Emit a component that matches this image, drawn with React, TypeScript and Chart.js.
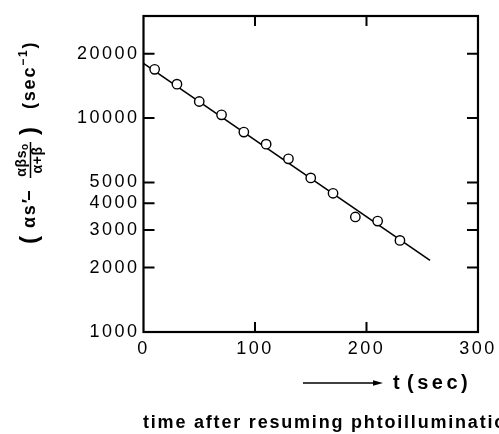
import { useEffect, useRef } from 'react';
import { Chart, registerables } from 'chart.js';

Chart.register(...registerables);

// Measured points: time (s) and rate value
const timeSec = [10, 30, 50, 70, 90, 110, 130, 150, 170, 190, 210, 230];
const rateValues = [16900, 14400, 11950, 10350, 8600, 7550, 6450, 5250, 4450, 3450, 3300, 2680];

// Fitted straight line (on log scale)
const fitTime = [0, 257];
const fitValues = [18000, 2160];

// Axis ticks
const yTickValues = [1000, 2000, 3000, 4000, 5000, 10000, 20000];
const xTickValues = [0, 100, 200, 300];
const xMin = 0;
const xMax = 300;
const yMin = 1000;
const yMax = 30000;

// Texts
const xArrowLabelT = 't';
const xArrowLabelUnit = '(sec)';
const captionText = 'time after resuming phtoillumination';

const FAMILY = '"Liberation Sans", Arial, Helvetica, sans-serif';

export default function App() {
  const ref = useRef<HTMLCanvasElement>(null);

  useEffect(() => {
    document.body.style.margin = '0';
    const canvas = ref.current!;

    const framePlugin = {
      id: 'framePlugin',
      beforeDraw(chart: any) {
        chart.ctx.letterSpacing = '2.5px';
      },
      afterDraw(chart: any) {
        const ctx: CanvasRenderingContext2D = chart.ctx;
        const { left, right, top, bottom } = chart.chartArea;
        const xs = chart.scales.x;
        const ys = chart.scales.y;
        ctx.save();
        ctx.letterSpacing = '0px';
        ctx.strokeStyle = '#000';
        ctx.fillStyle = '#000';
        ctx.lineWidth = 2.2;
        ctx.lineCap = 'butt';
        ctx.strokeRect(left, top, right - left, bottom - top);
        // inward ticks
        ctx.lineWidth = 2;
        ctx.beginPath();
        for (const v of yTickValues) {
          const py = ys.getPixelForValue(v);
          if (py >= bottom - 1) continue;
          ctx.moveTo(left, py);
          ctx.lineTo(left + 11, py);
          ctx.moveTo(right, py);
          ctx.lineTo(right - 11, py);
        }
        for (const v of xTickValues) {
          const px = xs.getPixelForValue(v);
          if (px <= left + 1 || px >= right - 1) continue;
          ctx.moveTo(px, bottom);
          ctx.lineTo(px, bottom - 10);
          ctx.moveTo(px, top);
          ctx.lineTo(px, top + 10);
        }
        ctx.stroke();

        // arrow + t(sec)
        ctx.lineWidth = 1.6;
        ctx.beginPath();
        ctx.moveTo(303, 383);
        ctx.lineTo(375, 383);
        ctx.stroke();
        ctx.beginPath();
        ctx.moveTo(373, 380.3);
        ctx.lineTo(383, 383);
        ctx.lineTo(373, 385.7);
        ctx.closePath();
        ctx.fill();

        ctx.textBaseline = 'alphabetic';
        ctx.textAlign = 'left';
        ctx.font = `bold 20px ${FAMILY}`;
        ctx.letterSpacing = '0px';
        ctx.fillText(xArrowLabelT, 393, 389);
        ctx.letterSpacing = '3.5px';
        ctx.fillText(xArrowLabelUnit, 407, 389);

        // caption
        ctx.font = `bold 18px ${FAMILY}`;
        ctx.letterSpacing = '1.8px';
        ctx.fillText(captionText, 143, 428);

        // y title (rotated, with fraction); local x = -screenY
        ctx.save();
        ctx.translate(30, 0);
        ctx.rotate(-Math.PI / 2);
        ctx.textBaseline = 'middle';
        ctx.textAlign = 'left';
        const big = `bold 18px ${FAMILY}`;
        const paren = `bold 24px ${FAMILY}`;
        const small = `bold 14px ${FAMILY}`;
        const tiny = `bold 10px ${FAMILY}`;
        const sup = `bold 12px ${FAMILY}`;
        const put = (text: string, font: string, screenY: number, dy: number) => {
          ctx.font = font;
          ctx.fillText(text, -screenY, dy);
          return ctx.measureText(text).width;
        };
        ctx.letterSpacing = '1.8px';
        put('(', paren, 244, 0);
        put('αs′', big, 228, 0);
        put('−', big, 201, 0);
        // fraction from screen y 178 up to ~142
        ctx.letterSpacing = '0.6px';
        const fracStart = 178;
        const fracLen = 36;
        ctx.font = small;
        const aw = ctx.measureText('αβs').width;
        ctx.font = tiny;
        const ow = ctx.measureText('o').width;
        const nStart = fracStart - (fracLen - (aw + ow)) / 2;
        put('αβs', small, nStart, -7.5);
        put('o', tiny, nStart - aw, -5);
        ctx.font = small;
        const dw = ctx.measureText('α+β').width;
        put('α+β', small, fracStart - (fracLen - dw) / 2, 8);
        ctx.lineWidth = 1.5;
        ctx.beginPath();
        ctx.moveTo(-fracStart, 0.5);
        ctx.lineTo(-(fracStart - fracLen), 0.5);
        ctx.stroke();
        ctx.letterSpacing = '1.8px';
        put(')', paren, 135, 0);
        let y = 109;
        y -= put('(sec', big, y, 0);
        y -= put('−1', sup, y, -6);
        put(')', big, y, 0);
        ctx.restore();
        ctx.restore();
      },
    };

    const chart = new Chart(canvas, {
      type: 'scatter',
      data: {
        datasets: [
          {
            data: fitTime.map((t, i) => ({ x: t, y: fitValues[i] })),
            showLine: true,
            borderColor: '#000',
            borderWidth: 1.6,
            pointRadius: 0,
            fill: false,
            order: 2,
          },
          {
            data: timeSec.map((t, i) => ({ x: t, y: rateValues[i] })),
            showLine: false,
            pointRadius: 4.7,
            pointBorderWidth: 1.4,
            pointBackgroundColor: '#fff',
            pointBorderColor: '#000',
            order: 1,
          },
        ],
      },
      options: {
        responsive: false,
        animation: false,
        devicePixelRatio: 1,
        layout: { padding: { left: 0, right: 20, top: 16, bottom: 0 } },
        plugins: { legend: { display: false }, tooltip: { enabled: false } },
        scales: {
          x: {
            type: 'linear',
            min: xMin,
            max: xMax,
            position: 'bottom',
            grid: { display: false, drawTicks: false },
            border: { display: false },
            ticks: {
              color: '#000',
              font: { family: FAMILY, size: 18 },
              padding: 6,
              maxRotation: 0,
              autoSkip: false,
              callback: (v: any) => String(v),
            },
            afterBuildTicks: (s: any) => {
              s.ticks = xTickValues.map((v) => ({ value: v }));
            },
            afterFit: (s: any) => {
              s.height = 102;
            },
          },
          y: {
            type: 'logarithmic',
            min: yMin,
            max: yMax,
            grid: { display: false, drawTicks: false },
            border: { display: false },
            ticks: {
              color: '#000',
              font: { family: FAMILY, size: 18 },
              padding: 4,
              autoSkip: false,
              callback: (v: any) => String(v),
            },
            afterBuildTicks: (s: any) => {
              s.ticks = yTickValues.map((v) => ({ value: v }));
            },
            afterFit: (s: any) => {
              s.width = 143.5;
            },
          },
        },
      },
      plugins: [framePlugin],
    } as any);

    return () => chart.destroy();
  }, []);

  return <canvas ref={ref} width={499} height={434} style={{ display: 'block' }} />;
}
